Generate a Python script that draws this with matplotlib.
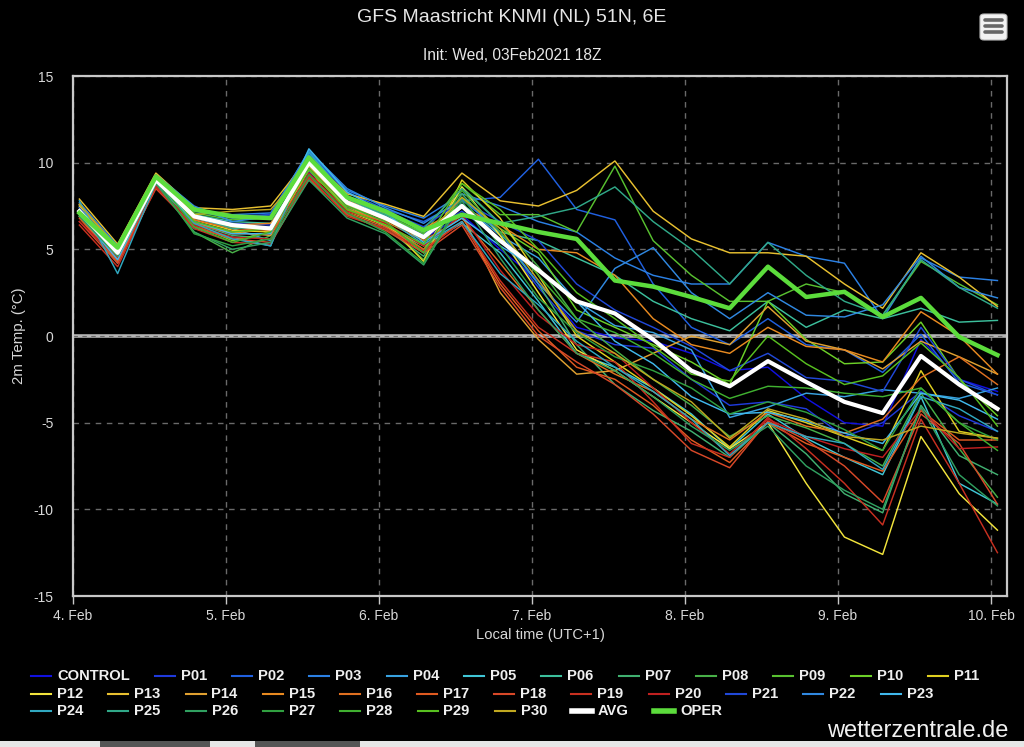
import matplotlib
matplotlib.use("Agg")
import matplotlib.pyplot as plt
from matplotlib.lines import Line2D
from matplotlib.patches import FancyBboxPatch, Rectangle

plt.rcParams['font.family'] = ['Liberation Sans', 'DejaVu Sans']

# ---------------- data ----------------
# hours after 4 Feb 2021 00:00 local time (6-hourly steps)
hours = [1, 7, 13, 19, 25, 31, 37, 43, 49, 55, 61, 67, 73, 79, 85, 91, 97,
         103, 109, 115, 121, 127, 133, 139, 145]
day_ticks = [0, 24, 48, 72, 96, 120, 144]
day_labels = ["4. Feb", "5. Feb", "6. Feb", "7. Feb", "8. Feb", "9. Feb", "10. Feb"]
y_ticks = [-15, -10, -5, 0, 5, 10, 15]

member_names = ["CONTROL", "P01", "P02", "P03", "P04", "P05", "P06", "P07", "P08",
                "P09", "P10", "P11", "P12", "P13", "P14", "P15", "P16", "P17",
                "P18", "P19", "P20", "P21", "P22", "P23", "P24", "P25", "P26",
                "P27", "P28", "P29", "P30"]
member_colors = ["#1010e0", "#1f3adc", "#2060e0", "#2b80e4", "#38a2e0", "#40c6d6",
                 "#3cbf9c", "#40b070", "#48b048", "#58c030", "#6cd028", "#e0d020",
                 "#f2e43c", "#e8c030", "#e0a030", "#e88a20", "#e07020", "#e05a20",
                 "#d84828", "#c83020", "#c02020", "#2048d8", "#3088e0", "#40b8ec",
                 "#30a8c0", "#30a888", "#30a060", "#30a040", "#40b030", "#58c020",
                 "#c0a820"]

CONTROL = [7.0, 4.6, 8.9, 6.6, 6.0, 6.3, 9.5, 7.5, 6.9, 5.6, 7.0, 5.0, 3.2, 0.5, -0.1, -0.3, -1.0, -2.0, -1.8, -3.6, -5.0, -5.2, -0.2, -2.5, -3.2]
P01 = [7.3, 4.9, 9.1, 7.0, 6.5, 6.4, 9.8, 7.9, 7.0, 5.9, 7.2, 5.6, 2.8, 0.3, -0.5, -0.7, -2.5, -4.0, -3.8, -4.2, -5.8, -5.0, -3.2, -4.6, -5.5]
P02 = [7.5, 5.1, 9.2, 7.2, 6.8, 7.0, 10.5, 8.3, 7.3, 6.6, 7.8, 8.0, 10.2, 7.3, 6.7, 3.0, 0.5, -0.5, 1.0, -0.5, -0.8, -2.1, 0.1, -2.7, -3.4]
P03 = [7.6, 5.0, 9.0, 7.3, 7.0, 7.1, 10.6, 8.4, 7.5, 6.8, 8.2, 7.5, 6.6, 6.0, 4.5, 3.5, 3.0, 3.0, 5.4, 4.6, 4.2, 1.0, 4.5, 3.4, 3.2]
P04 = [7.2, 4.5, 8.8, 6.8, 6.2, 5.5, 10.2, 8.1, 6.9, 5.8, 7.6, 5.8, 4.5, 2.0, 0.6, 0.2, -0.8, -4.7, -4.1, -3.3, -3.5, -3.1, -3.3, -3.6, -3.0]
P05 = [6.9, 4.2, 8.7, 6.2, 5.7, 5.2, 10.4, 7.6, 6.3, 5.2, 6.5, 4.8, 2.0, -1.0, -1.8, -3.0, -4.5, -6.5, -4.5, -5.9, -7.0, -8.0, -3.5, -8.5, -9.7]
P06 = [7.1, 4.8, 9.0, 7.0, 6.6, 6.5, 9.9, 7.8, 6.8, 6.0, 7.6, 6.0, 5.5, 4.5, 3.5, 2.0, 1.0, 0.3, 2.0, 0.5, 1.5, 1.0, 1.6, 0.8, 0.9]
P07 = [7.0, 4.7, 9.1, 6.5, 5.8, 5.6, 9.4, 7.0, 6.2, 4.6, 8.2, 5.8, 3.0, -0.5, -2.8, -4.3, -5.5, -7.0, -5.0, -6.8, -9.1, -10.2, -4.0, -6.9, -8.0]
P08 = [7.3, 5.0, 9.0, 6.0, 4.8, 5.8, 9.6, 7.4, 6.4, 4.4, 8.6, 6.5, 4.0, 1.0, -0.8, -2.5, -4.0, -5.8, -4.6, -5.3, -6.2, -7.5, -3.3, -6.5, -9.3]
P09 = [7.4, 5.2, 9.2, 7.1, 6.7, 6.8, 10.1, 7.9, 7.0, 5.9, 8.8, 7.0, 7.0, 6.0, 9.8, 5.5, 3.5, 2.0, 2.0, 3.0, 2.5, 1.2, 4.3, 3.0, 1.8]
P10 = [7.2, 4.9, 8.9, 6.4, 5.5, 6.0, 9.8, 7.6, 6.5, 5.0, 8.0, 6.2, 4.8, 1.5, 0.5, -0.5, -1.5, -2.8, 2.0, -0.2, -1.6, -1.5, 0.8, -2.5, -4.6]
P11 = [7.0, 4.5, 8.8, 6.7, 6.1, 6.0, 9.6, 7.3, 6.6, 4.3, 9.0, 6.8, 3.5, 0.0, -1.5, -3.0, -4.6, -6.4, -4.3, -5.0, -5.8, -6.6, -2.0, -5.5, -5.9]
P12 = [7.5, 4.7, 9.0, 6.9, 6.3, 6.1, 10.0, 7.2, 6.4, 4.8, 8.6, 5.8, 2.5, -0.8, -2.0, -3.5, -5.0, -6.5, -5.0, -8.5, -11.6, -12.6, -5.8, -9.1, -11.2]
P13 = [7.9, 5.3, 9.4, 7.4, 7.3, 7.5, 10.3, 8.2, 7.6, 6.9, 9.4, 7.8, 7.5, 8.4, 10.1, 7.2, 5.6, 4.8, 4.8, 4.6, 3.0, 1.6, 4.8, 3.4, 1.7]
P14 = [7.6, 5.0, 9.1, 6.5, 6.0, 5.8, 9.7, 7.5, 6.4, 5.2, 7.0, 2.5, -0.2, -2.2, -2.0, -1.0, 0.0, -0.5, 1.7, -0.3, -0.8, -1.9, -0.3, -1.2, -2.2]
P15 = [7.3, 4.6, 8.8, 6.8, 6.4, 6.5, 9.3, 7.8, 7.1, 6.2, 7.4, 6.4, 5.0, 4.8, 3.5, 1.0, -0.5, -1.0, 0.5, -0.6, -0.8, -1.5, 1.4, 0.0, -2.2]
P16 = [6.9, 4.4, 8.7, 6.7, 6.2, 6.1, 9.2, 7.3, 6.6, 5.5, 6.8, 4.2, 1.5, -1.0, -2.2, -3.2, -4.8, -6.0, -4.4, -5.2, -5.6, -4.8, -2.4, -1.2, -2.8]
P17 = [6.8, 4.3, 8.6, 6.5, 5.9, 5.9, 9.0, 7.1, 6.3, 5.0, 6.6, 3.0, 0.3, -1.8, -2.5, -4.0, -6.0, -7.3, -5.0, -6.2, -7.0, -7.8, -4.3, -6.0, -6.0]
P18 = [6.6, 4.2, 8.5, 6.3, 5.6, 5.4, 9.1, 7.0, 6.1, 4.8, 6.4, 2.8, 0.0, -1.5, -2.8, -4.5, -6.6, -7.6, -4.9, -6.0, -7.5, -9.6, -4.5, -6.2, -9.7]
P19 = [6.4, 4.0, 8.6, 6.2, 5.4, 5.3, 9.2, 6.9, 6.2, 4.9, 6.6, 3.2, 0.5, -1.0, -1.5, -3.8, -6.2, -7.0, -4.7, -6.5, -8.5, -10.9, -4.8, -8.5, -12.5]
P20 = [6.6, 4.5, 8.7, 6.4, 5.7, 5.6, 9.4, 7.2, 6.5, 5.2, 7.0, 3.8, 1.2, -0.5, -1.0, -3.0, -5.0, -6.8, -4.8, -5.8, -6.5, -7.0, -4.2, -6.5, -6.4]
P21 = [7.4, 4.9, 9.0, 7.3, 6.9, 7.0, 10.2, 8.0, 7.2, 6.3, 7.8, 6.6, 5.5, 3.0, 1.5, 0.5, -0.6, -2.0, -1.0, -2.4, -2.6, -3.2, 0.5, -2.5, -3.4]
P22 = [7.7, 5.2, 9.3, 7.5, 6.6, 6.9, 10.7, 8.5, 7.4, 6.5, 7.9, 6.0, 3.0, 0.8, 3.9, 5.1, 2.5, 1.0, 2.5, 1.2, 1.1, 1.8, 4.6, 2.8, 2.2]
P23 = [7.0, 4.4, 8.9, 6.6, 5.9, 5.9, 10.8, 8.3, 7.1, 5.4, 6.8, 5.2, 3.8, 2.0, -0.3, -1.6, -3.5, -4.5, -4.4, -4.9, -5.6, -6.2, -3.3, -3.7, -4.8]
P24 = [7.8, 3.6, 8.8, 6.5, 5.6, 5.2, 10.6, 8.0, 6.8, 5.3, 6.6, 3.6, 1.8, -0.3, -1.8, -3.2, -4.8, -6.9, -5.0, -5.8, -6.2, -7.7, -3.5, -4.2, -5.5]
P25 = [7.3, 4.9, 9.0, 6.9, 6.2, 6.3, 9.9, 7.9, 7.0, 6.2, 8.5, 6.5, 6.9, 7.4, 8.6, 6.6, 5.0, 3.0, 5.4, 3.5, 2.0, 1.2, 4.4, 2.8, 1.6]
P26 = [6.9, 4.6, 8.8, 6.0, 5.0, 5.4, 9.0, 6.8, 5.9, 4.1, 7.8, 4.5, 1.5, -1.0, -2.0, -3.5, -5.2, -6.6, -5.2, -7.5, -8.9, -10.0, -4.1, -8.0, -9.8]
P27 = [7.1, 4.8, 9.0, 5.9, 5.2, 5.6, 9.3, 7.1, 6.0, 4.2, 8.0, 5.2, 2.2, 0.2, -1.2, -2.0, -3.0, -4.5, -3.8, -4.4, -5.4, -6.6, -3.0, -5.0, -6.0]
P28 = [7.2, 5.0, 9.1, 6.3, 5.4, 6.0, 9.7, 7.5, 6.6, 4.8, 8.4, 6.0, 3.5, 1.0, 0.2, -1.0, -2.5, -3.6, -2.9, -3.0, -3.3, -3.5, -3.0, -5.0, -6.6]
P29 = [7.0, 5.1, 9.2, 6.6, 6.0, 6.2, 9.6, 7.3, 6.4, 5.3, 8.8, 7.3, 5.0, 2.5, 1.0, -0.6, -2.2, -2.6, 0.0, -1.6, -2.8, -2.3, -0.4, -2.4, -5.2]
P30 = [7.6, 5.1, 9.3, 7.0, 7.2, 7.3, 9.8, 7.6, 6.7, 5.6, 8.0, 6.2, 3.2, 0.3, -1.0, -2.5, -3.8, -5.9, -4.2, -4.8, -5.8, -6.0, -5.2, -5.6, -5.9]

AVG = [7.2, 4.8, 9.0, 6.9, 6.4, 6.2, 10.0, 7.7, 6.8, 5.7, 7.5, 5.5, 3.8, 2.0, 1.3, -0.2, -2.0, -2.9, -1.45, -2.65, -3.8, -4.45, -1.15, -2.8, -4.2]
OPER = [7.1, 5.1, 9.2, 7.3, 6.9, 6.8, 10.3, 8.0, 7.2, 6.1, 7.0, 6.5, 6.0, 5.6, 3.2, 2.85, 2.25, 1.6, 4.0, 2.25, 2.55, 1.1, 2.2, -0.05, -1.1]

members = [CONTROL, P01, P02, P03, P04, P05, P06, P07, P08, P09, P10, P11, P12,
           P13, P14, P15, P16, P17, P18, P19, P20, P21, P22, P23, P24, P25, P26,
           P27, P28, P29, P30]
avg_color = "#ffffff"
oper_color = "#5cdc3c"

# ---------------- figure ----------------
W, H = 1024, 747
fig = plt.figure(figsize=(W / 100, H / 100), dpi=100, facecolor="black")
ax = fig.add_axes([73 / W, 1 - 596 / H, (1007 - 73) / W, (596 - 76) / H])
ax.set_facecolor("black")

ax.set_xlim(0, 146.5)
ax.set_ylim(-15, 15)

# grid
for t in day_ticks:
    ax.axvline(t, color="#6a6a6a", lw=1.0, ls=(0, (4, 4)), zorder=1)
for v in y_ticks:
    if v != 0:
        ax.axhline(v, color="#6a6a6a", lw=1.0, ls=(0, (4, 4)), zorder=1)
ax.axhline(0, color="#b4b4b4", lw=2.6, zorder=1.5)
ax.axhline(0, color="#6a6a6a", lw=0.8, ls=(0, (4, 4)), zorder=1.6)

for vals, col in zip(members, member_colors):
    ax.plot(hours, vals, color=col, lw=1.05, zorder=2)
ax.plot(hours, AVG, color=avg_color, lw=3.0, zorder=3)
ax.plot(hours, OPER, color=oper_color, lw=3.2, zorder=4)

for s in ax.spines.values():
    s.set_color("#c8c8c8")
    s.set_linewidth(1.6)

ax.set_xticks(day_ticks)
ax.set_xticklabels(day_labels)
ax.set_yticks(y_ticks)
ax.set_yticklabels([str(v) for v in y_ticks])
ax.tick_params(axis="x", colors="#c8c8c8", labelcolor="#d8d8d8", length=6, width=1,
               labelsize=10, pad=3)
ax.tick_params(axis="y", length=0, labelcolor="#d8d8d8", labelsize=10, pad=14)

ax.set_xlabel("Local time (UTC+1)", color="#d8d8d8", fontsize=10.6, labelpad=4)
ax.set_ylabel("2m Temp. (°C)", color="#d8d8d8", fontsize=10.8, labelpad=5.5)

fig.text(512 / W, 1 - 18 / H, "GFS Maastricht KNMI (NL) 51N, 6E", color="#e6e6e6",
         fontsize=14, ha="center", va="center")
fig.text(512 / W, 1 - 56 / H, "Init: Wed, 03Feb2021 18Z", color="#e6e6e6",
         fontsize=11.2, ha="center", va="center")

# menu button
fig.patches.append(FancyBboxPatch((980 / W, 1 - 40 / H), 27 / W, 26 / H,
                                  boxstyle="round,pad=0,rounding_size=0.004",
                                  transform=fig.transFigure, facecolor="#f2f2f2",
                                  edgecolor="#bbbbbb", lw=0.8))
for yy in (20, 26, 32):
    fig.add_artist(Line2D([985 / W, 1002 / W], [1 - yy / H, 1 - yy / H],
                          transform=fig.transFigure, color="#666666", lw=2.6,
                          solid_capstyle="round"))

# manual flowing legend
legend_rows = [
    member_names[0:12],
    member_names[12:24],
    member_names[24:31] + ["AVG", "OPER"],
]
color_of = dict(zip(member_names, member_colors))
color_of["AVG"] = avg_color
color_of["OPER"] = oper_color
row_y = [676, 694, 711]
fig.canvas.draw()
renderer = fig.canvas.get_renderer()
for names, py in zip(legend_rows, row_y):
    x0 = 31
    yf = 1 - py / H
    for nm in names:
        thick = nm in ("AVG", "OPER")
        fig.add_artist(Line2D([x0 / W, (x0 + 20) / W], [yf, yf], transform=fig.transFigure,
                              color=color_of[nm], lw=4.0 if thick else 1.5))
        t = fig.text((x0 + 26) / W, yf, nm, color="#f0f0f0", fontsize=10.6,
                     fontweight="bold", ha="left", va="center")
        bb = t.get_window_extent(renderer=renderer)
        x0 = bb.x1 + 25

fig.text(1008 / W, 1 - 731 / H, "wetterzentrale.de", color="#f0f0f0", fontsize=17,
         ha="right", va="center")

# page strip at the very bottom
fig.patches.append(Rectangle((0, 0), 1, 6 / H, transform=fig.transFigure,
                             facecolor="#e6e6e6", edgecolor="none"))
for xa, xb in ((100, 210), (255, 360)):
    fig.patches.append(Rectangle((xa / W, 0), (xb - xa) / W, 6 / H,
                                 transform=fig.transFigure, facecolor="#555555",
                                 edgecolor="none"))

fig.savefig("out.png", dpi=100, facecolor="black")
